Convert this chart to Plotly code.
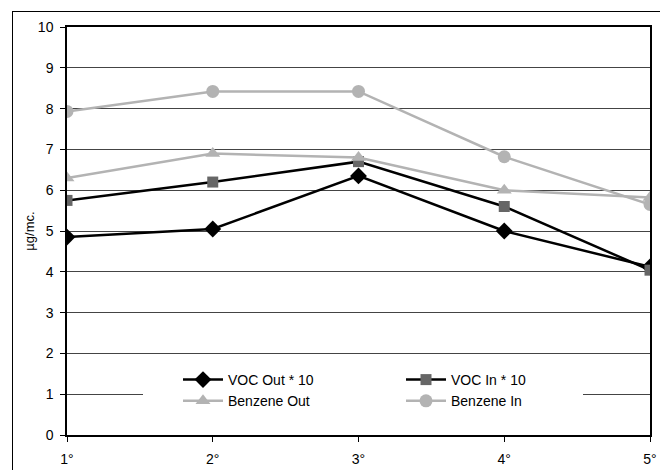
import plotly.graph_objects as go

categories = ["1°", "2°", "3°", "4°", "5°"]
voc_out = [4.85, 5.05, 6.35, 5.0, 4.12]
voc_in = [5.75, 6.2, 6.7, 5.6, 4.04]
benz_out = [6.3, 6.9, 6.8, 6.0, 5.82]
benz_in = [7.93, 8.42, 8.42, 6.82, 5.65]
y_ticks = list(range(0, 11))

xs = list(range(1, len(categories) + 1))

fig = go.Figure()
fig.add_trace(go.Scatter(x=xs, y=voc_out, name="VOC Out * 10", mode="lines+markers",
                         line=dict(color="#000000", width=2.5),
                         marker=dict(symbol="diamond", size=13, color="#000000")))
fig.add_trace(go.Scatter(x=xs, y=voc_in, name="VOC In * 10", mode="lines+markers",
                         line=dict(color="#000000", width=2.5),
                         marker=dict(symbol="square", size=11, color="#666666")))
fig.add_trace(go.Scatter(x=xs, y=benz_out, name="Benzene Out", mode="lines+markers",
                         line=dict(color="#b3b3b3", width=2.5),
                         marker=dict(symbol="triangle-up", size=13, color="#b3b3b3")))
fig.add_trace(go.Scatter(x=xs, y=benz_in, name="Benzene In", mode="lines+markers",
                         line=dict(color="#b3b3b3", width=2.5),
                         marker=dict(symbol="circle", size=13, color="#b3b3b3")))

W, H = 660, 470
L, R, T, B = 67, 10, 27, 35
pw, ph = W - L - R, H - T - B

def px_x(p):
    return (p - L) / pw

def px_y(p):
    return (H - B - p) / ph

# white box behind legend hiding gridlines
fig.add_shape(type="rect", xref="paper", yref="paper",
              x0=px_x(143), x1=px_x(583), y0=px_y(424), y1=px_y(362),
              fillcolor="white", line=dict(width=0), layer="above")

fig.update_layout(
    width=W, height=H,
    margin=dict(l=L, r=R, t=T, b=B, autoexpand=False),
    paper_bgcolor="white", plot_bgcolor="white",
    font=dict(family="Liberation Sans, Arial, sans-serif", size=14, color="#000000"),
    showlegend=True,
    legend=dict(orientation="h", x=px_x(178), y=px_y(364), xanchor="left", yanchor="top",
                bgcolor="rgba(0,0,0,0)", font=dict(size=14),
                entrywidth=168, entrywidthmode="pixels", traceorder="normal",
                itemwidth=40, tracegroupgap=0),
)
fig.update_xaxes(range=[1, 5], tickmode="array", tickvals=xs, ticktext=categories,
                 showgrid=False, zeroline=False, showline=True, linecolor="#000000",
                 linewidth=1.5, mirror=True, ticks="outside", ticklen=5, automargin=False,
                 tickcolor="#000000", tickfont=dict(size=14), ticklabelstandoff=5)
fig.update_yaxes(range=[0, 10], tickmode="array", tickvals=y_ticks, automargin=False,
                 showgrid=True, gridcolor="#444444", gridwidth=1, zeroline=False,
                 showline=True, linecolor="#000000", linewidth=1.5, mirror=True,
                 ticks="outside", ticklen=5, tickcolor="#000000", tickfont=dict(size=14),
                 ticklabelstandoff=4,
                 title=dict(text="µg/mc.", font=dict(size=13), standoff=0))

border_js = (
    "document.body.style.margin='0';document.body.style.overflow='hidden';"
    "var b=document.createElement('div');"
    "b.style.cssText='position:absolute;left:12px;top:11px;width:700px;height:600px;"
    "border-left:1px solid #000;border-top:1px solid #000;pointer-events:none;z-index:10;';"
    "document.body.appendChild(b);"
)
fig.write_html("out.html", config={"displayModeBar": False}, post_script=border_js)
